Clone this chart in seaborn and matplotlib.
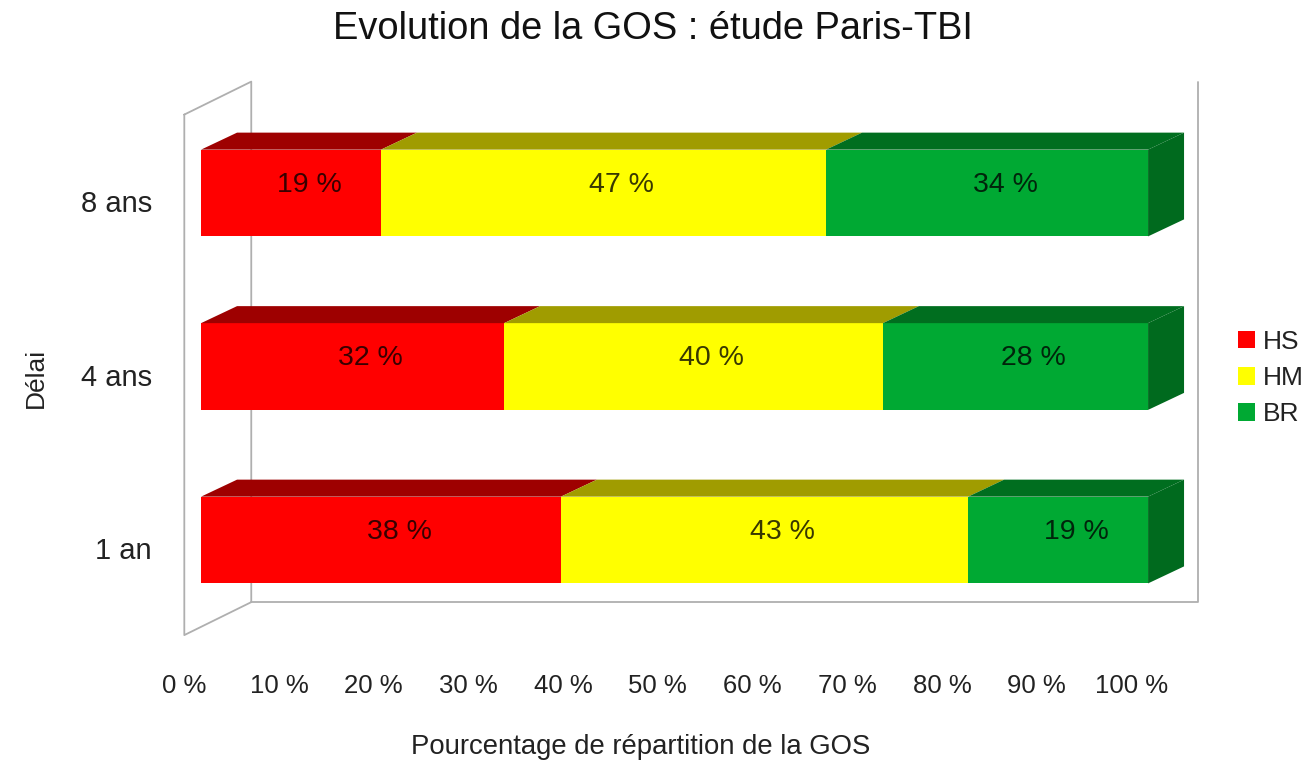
import pandas as pd
import matplotlib.pyplot as plt
import seaborn as sns
from matplotlib.patches import Polygon, Patch

# Data
delais = ['8 ans', '4 ans', '1 an']
hs = [19, 32, 38]
hm = [47, 40, 43]
br = [34, 28, 19]
series = ['HS', 'HM', 'BR']
ticks = [0, 10, 20, 30, 40, 50, 60, 70, 80, 90, 100]

# colours: front face, top face, side face
front = {'HS': '#FF0000', 'HM': '#FFFF00', 'BR': '#00A933'}
top = {'HS': '#9E0000', 'HM': '#A09C00', 'BR': '#006E1F'}
side = {'HS': '#8A0000', 'HM': '#8C8900', 'BR': '#006A1E'}

df = pd.DataFrame({'Délai': delais, 'HS': hs, 'HM': hm, 'BR': br})
df['cum_HS'] = df['HS']
df['cum_HM'] = df['HS'] + df['HM']
df['cum_BR'] = df['cum_HM'] + df['BR']

sns.set_style('white')
plt.rcParams['font.family'] = ['Liberation Sans', 'DejaVu Sans']

fig = plt.figure(figsize=(13.11, 7.64), dpi=100)
ax = fig.add_axes([0.1317, 0.1342, 0.8018, 0.7835])

# oblique depth of the 3D look (in data units)
bar_w = 0.5
depth = (7.07, -0.19)          # front plane -> back plane
bar_d = (3.8, -0.098)          # depth of one bar
front_off = (-1.77, 0.048)     # bar front face -> front plane

# front faces, stacked by overlaying cumulative sums
for s in reversed(series):
    sns.barplot(data=df, x='cum_' + s, y='Délai', order=delais, color=front[s],
                saturation=1, width=bar_w, linewidth=0, ax=ax, zorder=3)

# top and side faces
for i, row in df.iterrows():
    y0 = i - bar_w / 2
    y1 = i + bar_w / 2
    left = 0
    for s in series:
        right = left + row[s]
        ax.add_patch(Polygon([(left, y0), (right, y0), (right + bar_d[0], y0 + bar_d[1]),
                              (left + bar_d[0], y0 + bar_d[1])],
                             closed=True, facecolor=top[s], edgecolor='none', zorder=4))
        ax.text((left + right) / 2 + bar_d[0] / 2, i + bar_d[1] / 2, f'{row[s]} %',
                ha='center', va='center', fontsize=20.5, color='black', alpha=0.78, zorder=6)
        left = right
    ax.add_patch(Polygon([(left, y0), (left + bar_d[0], y0 + bar_d[1]),
                          (left + bar_d[0], y1 + bar_d[1]), (left, y1)],
                         closed=True, facecolor=side['BR'], edgecolor='none', zorder=4))

# walls: left wall and back/floor edges
fx, fy = front_off
bx, by = fx + depth[0], fy + depth[1]
ytop, ybot = -0.5, len(delais) - 0.5
wall = dict(color='#AFAFAF', lw=1.3, zorder=1)
ax.plot([fx, fx, bx, bx, fx], [ytop + fy, ybot + fy, ybot + by, ytop + by, ytop + fy], **wall)
ax.plot([bx, 100 + bx, 100 + bx], [ybot + by, ybot + by, ytop + by], **wall)

ax.set_xlim(-3, 108)
ax.set_ylim(2.7, -0.75)

ax.set_xticks([t + fx for t in ticks], [f'{t} %' for t in ticks])
ax.set_yticks([i + fy for i in range(len(delais))], delais)
ax.tick_params(axis='x', length=0, pad=9, labelsize=18.5, labelcolor='#222222')
ax.tick_params(axis='y', length=0, pad=15, labelsize=21, labelcolor='#222222')
for sp in ax.spines.values():
    sp.set_visible(False)

ax.set_xlabel('Pourcentage de répartition de la GOS', fontsize=19.8, color='#222222')
ax.set_ylabel('Délai', fontsize=19, color='#222222')
ax.xaxis.set_label_coords(0.4456, -0.122)
ax.yaxis.set_label_coords(-0.1185, 0.4736)

fig.text(653 / 1311, 1 - 29 / 764, 'Evolution de la GOS : étude Paris-TBI',
         ha='center', va='center', fontsize=27.4, color='#111111')

handles = [Patch(facecolor=front[s], edgecolor='none', label=s) for s in series]
fig.legend(handles=handles, loc='upper left', bbox_to_anchor=(0.9443, 0.568),
           frameon=False, fontsize=19, handlelength=0.64, handleheight=0.64,
           handletextpad=0.3, labelspacing=0.46, borderpad=0, borderaxespad=0,
           labelcolor='#222222')

fig.savefig('out.png', dpi=100)
